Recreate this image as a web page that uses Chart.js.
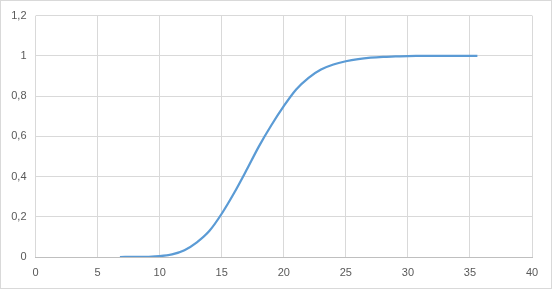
<!DOCTYPE html>
<html>
<head>
<meta charset="utf-8">
<script src="https://cdn.jsdelivr.net/npm/chart.js@4/dist/chart.umd.min.js"></script>
<style>
html,body{margin:0;padding:0;background:#fff;}
#wrap{width:552px;height:289px;position:relative;}
</style>
</head>
<body>
<div id="wrap"><canvas id="c" width="552" height="289"></canvas></div>
<script>
const xValues = [6.8, 8, 9, 10, 11, 12, 13, 14, 15, 16, 17, 18, 19, 20, 21, 22, 23, 24, 25, 26, 27, 28, 29, 30, 31, 32, 33, 34, 35, 35.6];
const yValues = [0, 0.0003, 0.001, 0.004, 0.013, 0.034, 0.073, 0.129, 0.215, 0.318, 0.432, 0.55, 0.655, 0.75, 0.833, 0.891, 0.932, 0.957, 0.973, 0.984, 0.991, 0.995, 0.997, 0.999, 0.9995, 1, 1, 1, 1, 1];
const xTicks = [0, 5, 10, 15, 20, 25, 30, 35, 40];
const yTicks = [0, 0.2, 0.4, 0.6, 0.8, 1, 1.2];

const points = xValues.map((x, i) => ({x: x, y: yValues[i]}));

const borderPlugin = {
  id: 'outerBorder',
  afterDraw(chart) {
    const ctx = chart.ctx;
    ctx.save();
    ctx.strokeStyle = '#d9d9d9';
    ctx.lineWidth = 1;
    ctx.strokeRect(0.5, 0.5, chart.width - 1, chart.height - 1);
    ctx.restore();
  }
};

const fmt = v => String(Math.round(v * 10) / 10).replace('.', ',');

new Chart(document.getElementById('c'), {
  type: 'line',
  data: {
    datasets: [{
      data: points,
      borderColor: '#5b9bd5',
      borderWidth: 2.25,
      pointRadius: 0,
      cubicInterpolationMode: 'monotone',
      fill: false
    }]
  },
  options: {
    responsive: false,
    animation: false,
    devicePixelRatio: 1,
    layout: {padding: {left: 0, right: 20, top: 15, bottom: 0}},
    plugins: {legend: {display: false}, tooltip: {enabled: false}},
    scales: {
      x: {
        type: 'linear',
        min: 0, max: 40,
        afterBuildTicks: s => { s.ticks = xTicks.map(v => ({value: v})); },
        afterFit: s => { s.height = 32; },
        grid: {color: '#d9d9d9', drawTicks: false, lineWidth: 1},
        border: {color: '#bfbfbf'},
        ticks: {color: '#595959', padding: 9, font: {family: 'Liberation Sans', size: 11}, maxRotation: 0, callback: v => fmt(v)}
      },
      y: {
        min: 0, max: 1.2,
        afterBuildTicks: s => { s.ticks = yTicks.map(v => ({value: v})); },
        afterFit: s => { s.width = 35.5; },
        grid: {color: '#d9d9d9', drawTicks: false, lineWidth: 1},
        border: {display: false},
        ticks: {color: '#595959', padding: 9, font: {family: 'Liberation Sans', size: 11}, callback: v => fmt(v)}
      }
    }
  },
  plugins: [borderPlugin]
});
</script>
</body>
</html>
